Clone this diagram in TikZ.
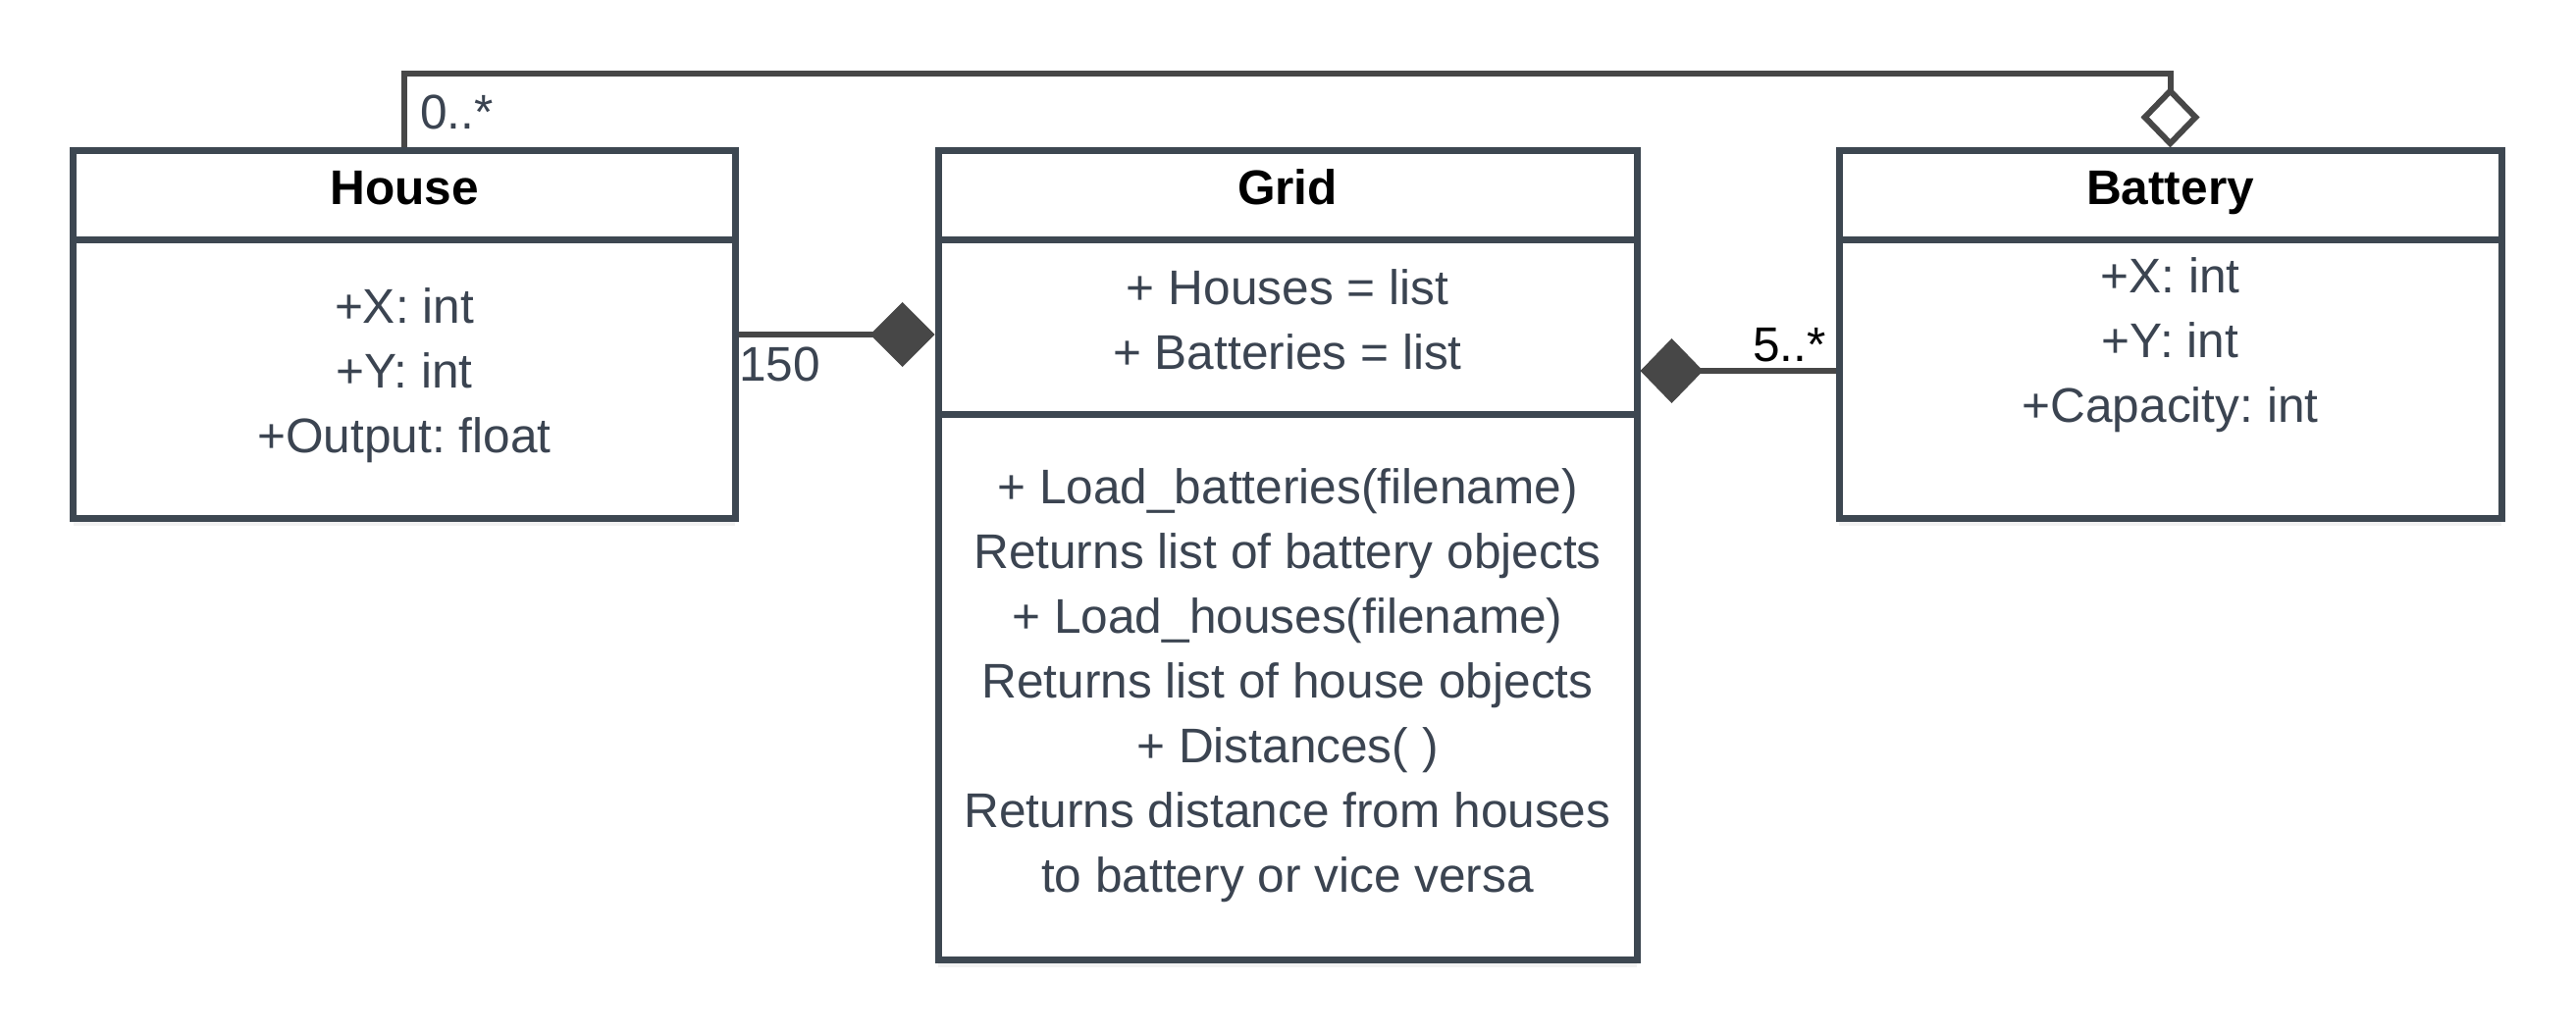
\documentclass[tikz,border=0pt]{standalone}
\usepackage{fontspec}
\setmainfont{Liberation Sans}
\usetikzlibrary{arrows.meta,shadows}
\definecolor{boxc}{HTML}{3D4751}
\definecolor{txtc}{HTML}{3B4451}
\definecolor{linec}{HTML}{474747}
\begin{document}
\frenchspacing
\begin{tikzpicture}[x=0.5pt,y=-0.5pt,
  umlbox/.style={draw=boxc, line width=3.5pt, fill=white, inner sep=0pt, anchor=north west,
    general shadow={shadow yshift=-2pt, opacity=0.07, fill=black},
    general shadow={shadow yshift=-4pt, opacity=0.05, fill=black}},
  divider/.style={draw=boxc, line width=3.5pt},
  txt/.style={text=txtc, font=\fontsize{24.8}{33}\selectfont, inner sep=0pt, anchor=base},
  hdr/.style={text=black, font=\fontsize{24.8}{33}\selectfont\bfseries, inner sep=0pt, anchor=base},
  lbl/.style={text=txtc, font=\fontsize{24.8}{33}\selectfont, inner sep=0pt, anchor=base west},
  conn/.style={draw=linec, line width=3pt}
]
\useasboundingbox (0,0) rectangle (2625,1054);

% boxes (anchor at outer border of stroke)
\node[umlbox, minimum width=337.2pt, minimum height=187pt] (house) at (71.1,150.5) {};
\node[umlbox, minimum width=356pt, minimum height=412pt] (grid) at (952.5,150.5) {};
\node[umlbox, minimum width=337.5pt, minimum height=187pt] (battery) at (1870.5,150.5) {};

% dividers
\draw[divider] ([yshift=-46.75pt]house.north west) -- ([yshift=-46.75pt]house.north east);
\draw[divider] ([yshift=-46.75pt]grid.north west) -- ([yshift=-46.75pt]grid.north east);
\draw[divider] ([yshift=-135.75pt]grid.north west) -- ([yshift=-135.75pt]grid.north east);
\draw[divider] ([yshift=-46.75pt]battery.north west) -- ([yshift=-46.75pt]battery.north east);

% headers
\node[hdr] (hh) at (412,208) {House};
\node[hdr] (gh) at (1312,208) {Grid};
\node[hdr] (bh) at (2211.5,208) {Battery};

% house attributes
\node[txt] (ha1) at (412,329) {+X: int};
\node[txt] (ha2) at (412,395) {+Y: int};
\node[txt] (ha3) at (412,461) {+Output: float};

% grid attributes
\node[txt] (ga1) at (1312,310) {+ Houses = list};
\node[txt] (ga2) at (1312,376) {+ Batteries = list};

% grid methods
\node[txt] (gm1) at (1312,513) {+ Load\_batteries(filename)};
\node[txt] (gm2) at (1312,579) {Returns list of battery objects};
\node[txt] (gm3) at (1312,645) {+ Load\_houses(filename)};
\node[txt] (gm4) at (1312,711) {Returns list of house objects};
\node[txt] (gm5) at (1312,777) {+ Distances( )};
\node[txt] (gm6) at (1312,843) {Returns distance from houses};
\node[txt] (gm7) at (1312,909) {to battery or vice versa};

% battery attributes
\node[txt] (ba1) at (2211.5,298) {+X: int};
\node[txt] (ba2) at (2211.5,364) {+Y: int};
\node[txt] (ba3) at (2211.5,430) {+Capacity: int};

% connectors
\coordinate (agg) at (1300,75);
\draw[conn, -{Diamond[fill=white, length=31pt, width=30pt, line width=3pt]}]
  (house.north) |- (agg) -| (battery.north);
\draw[conn, -{Diamond[length=33pt, width=33pt, line width=0pt]}]
  (house.east) -- (house.east -| grid.west);
\coordinate (gb) at (1800,378);
\draw[conn, {Diamond[length=32pt, width=33pt, line width=0pt]}-]
  (gb -| grid.east) -- (gb -| battery.west);

% multiplicities
\node[lbl] (m1) at (428,132) {0..*};
\node[lbl] (m2) at (753,388) {150};
\node[lbl, text=black] (m3) at (1786,368) {5..*};
\end{tikzpicture}
\end{document}
